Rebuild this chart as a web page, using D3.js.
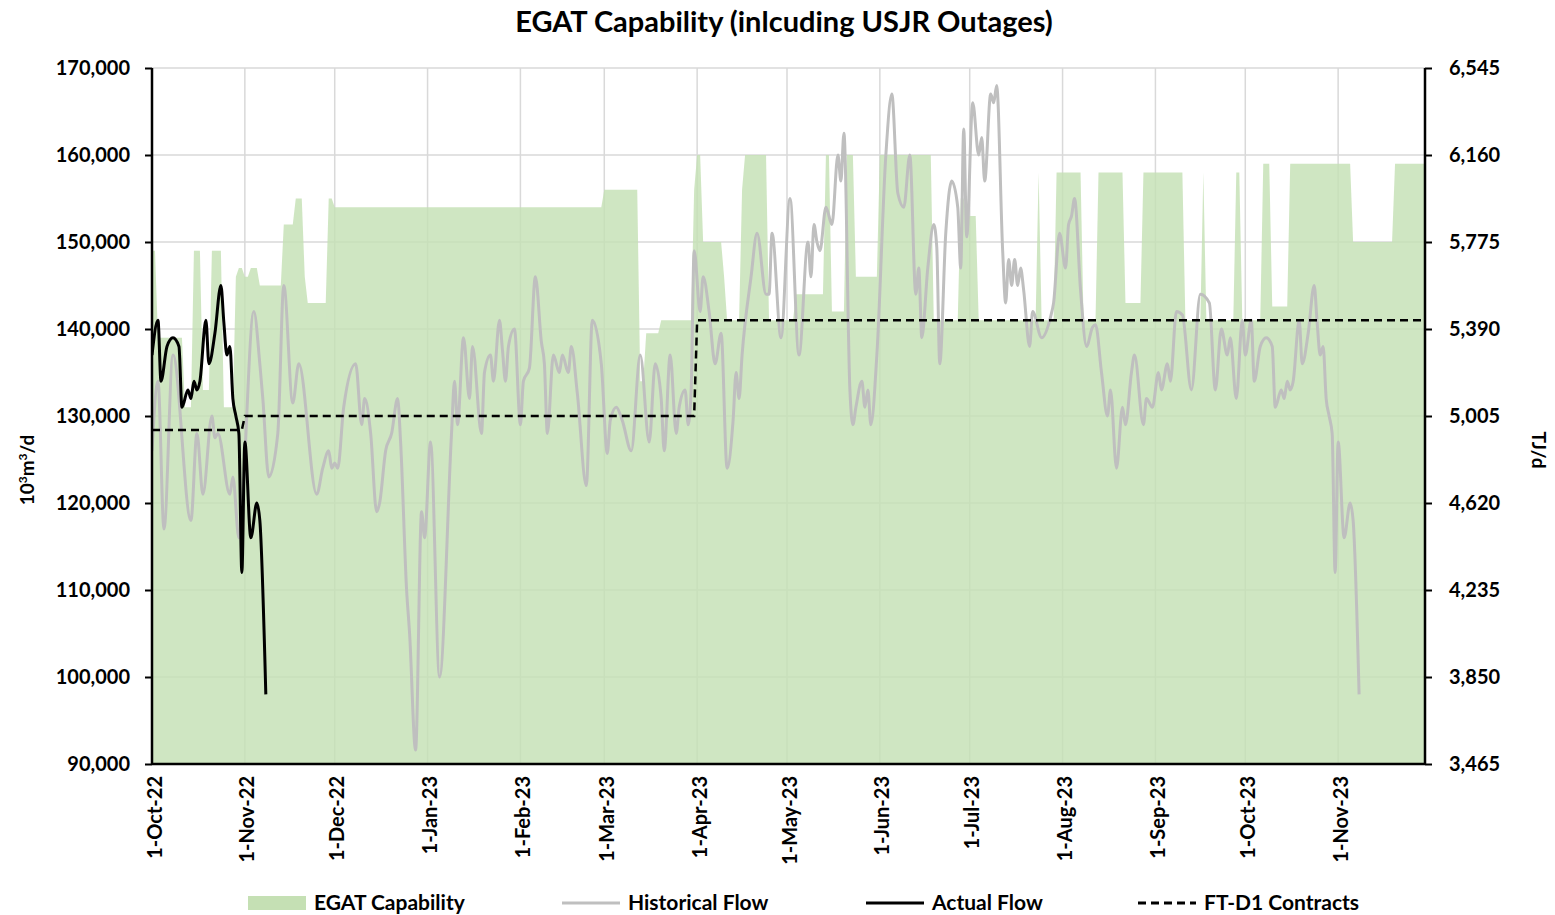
<!DOCTYPE html>
<html>
<head>
<meta charset="utf-8">
<script src="https://cdn.jsdelivr.net/npm/d3@7"></script>
<style>
  body { margin: 0; background: #fff; }
  svg text { font-family: Lato, "Open Sans", sans-serif; font-weight: 700; fill: #000; }
</style>
</head>
<body>
<svg id="chart" width="1555" height="915"></svg>
<script>
// EGAT capability chart

// --- data -------------------------------------------------------------
// all x values are days since 1-Oct-22, flows are in thousands of 10^3m3/d
const monthLabels = ['1-Oct-22', '1-Nov-22', '1-Dec-22', '1-Jan-23', '1-Feb-23', '1-Mar-23', '1-Apr-23',
    '1-May-23', '1-Jun-23', '1-Jul-23', '1-Aug-23', '1-Sep-23', '1-Oct-23', '1-Nov-23'];
const leftTicks = [90000, 100000, 110000, 120000, 130000, 140000, 150000, 160000, 170000];
const rightTicks = [3465, 3850, 4235, 4620, 5005, 5390, 5775, 6160, 6545];

// EGAT capability (step changes)
const capDays = [0, 1, 2, 10, 11, 13, 14, 16, 17, 19, 20, 23, 24, 27, 28, 29, 30, 31, 32, 33, 35, 36, 43, 44, 47, 48,
    50, 51, 52, 58, 59, 60, 61, 150, 151, 162, 163, 164, 165, 169, 170, 180, 181, 182, 183, 184, 190, 191, 192, 196,
    197, 198, 205, 206, 214, 215, 224, 225, 226, 227, 231, 232, 234, 235, 242, 243, 260, 261, 269, 270, 271, 272, 275,
    276, 295, 296, 297, 301, 302, 310, 311, 315, 316, 324, 325, 330, 331, 344, 345, 350, 351, 352, 361, 362, 363, 364,
    370, 371, 373, 374, 379, 380, 400, 401, 414, 415, 425];
const capValues = [149, 149, 139, 139, 131, 131, 149, 149, 133, 133, 149, 149, 131, 131, 146, 147, 147, 146, 146, 147, 147, 145, 145, 152, 152, 155,
    155, 146, 143, 143, 155, 155, 154, 154, 156, 156, 134, 134, 139.5, 139.5, 141, 141, 156, 160, 160, 150, 150, 146, 141, 141,
    156, 160, 160, 141, 141, 144, 144, 160, 160, 142, 142, 160, 160, 146, 146, 160, 160, 141, 141, 155, 155, 153, 153,
    141, 141, 158, 141, 141, 158, 158, 141, 141, 158, 158, 143, 143, 158, 158, 141, 141, 158, 141, 141, 158, 158, 141,
    141, 159, 159, 142.6, 142.6, 159, 159, 150, 150, 159, 159];

// Historical flow (turning points)
const histDays = [0, 2, 4, 7, 13, 15, 17, 20, 21, 22, 26, 27, 29, 34, 36, 37, 39, 42, 44, 47, 49, 55, 57, 59, 60, 61, 62,
    64, 68, 70, 71, 73, 75, 76, 78, 80, 82, 83, 85, 86, 88, 90, 91, 93, 96, 100, 101, 102, 104, 106, 107, 110, 111, 113,
    114, 116, 117, 118, 119, 121, 123, 124, 126, 128, 130, 131, 132, 134, 136, 137, 139, 140, 142, 145, 147, 150, 152,
    153, 155, 157, 160, 163, 166, 168, 170, 171, 173, 175, 176, 178, 179, 180, 181, 183, 184, 186, 188, 190, 192, 194,
    195, 196, 197, 200, 202, 205, 206, 207, 210, 213, 216, 219, 220, 221, 222, 223, 225, 227, 229, 230, 231, 233, 234,
    235, 237, 238, 239, 240, 242, 245, 247, 249, 251, 253, 255, 256, 257, 259, 261, 262, 263, 265, 267, 269, 270, 271,
    272, 274, 276, 277, 278, 280, 281, 282, 284, 285, 286, 287, 288, 289, 290, 291, 293, 294, 297, 300, 301, 303, 305,
    306, 307, 308, 310, 312, 314, 315, 317, 319, 320, 322, 324, 325, 327, 328, 331, 332, 334, 336, 337, 339, 340, 342,
    344, 347, 350, 353, 355, 357, 359, 360, 362, 364,
    365, 367, 368, 370, 372, 374, 375, 377, 378, 379, 380, 381, 383, 384, 386, 388, 389, 390, 391, 392, 393, 394, 395,
    396, 398, 400, 401, 403];
const histValues = [126, 134, 117, 137, 118, 128, 121, 130, 127.5, 128, 121, 123, 116, 142, 136, 132, 123, 128, 145, 131.5, 136, 121, 124, 126, 124, 124.6, 124,
    131, 136, 129, 132, 128, 119, 120, 126, 128, 132, 127, 110, 105, 91.6, 119, 116, 127, 100, 128, 134, 129, 139, 132, 138, 128, 135, 137,
    134, 141, 137.6, 134, 138, 140, 129, 134, 135.5, 146, 138.5, 136, 128, 137, 135, 137, 135, 138, 132.6, 122, 141, 136, 125.7,
    129.5, 131, 129.5, 126, 137, 127, 136, 132, 126, 137, 128, 131, 133, 129, 133, 149, 142, 146, 142, 136, 139.5, 124, 129.5,
    135, 132, 137, 146, 151, 144, 144, 151, 139, 155, 137, 150, 146, 152, 150, 149, 154, 152, 160, 157, 162.5, 133, 129,
    131, 134, 131, 133, 129, 137, 160, 167, 155.6, 154, 160, 144, 147, 139, 147, 152, 149.4, 136, 151, 157, 154, 147, 163,
    150.6, 166, 160, 162, 157, 167, 166, 168, 149, 143, 148, 145, 148, 145, 147, 144.5, 138, 142, 139, 141.4, 143, 151, 147,
    152, 153, 155, 144.5, 138, 140.2, 140.5, 135, 130, 133, 124, 131, 129, 135, 137, 129, 132, 131, 135, 133, 136, 134, 142,
    141.6, 133, 144, 143, 133, 140, 137, 139, 132, 141,
    137, 141, 134, 138, 139, 138, 131, 133, 132, 134, 133, 134, 141, 136, 139.5, 145, 140.7, 137, 138, 132, 130, 128, 112,
    127, 116, 120, 118, 98];

// Actual flow (Oct-Nov 2023 flows laid over the 2022 dates)
const actualDays = [0, 2, 3, 5, 7, 9, 10, 12, 13, 14, 15, 16, 18, 19, 21, 23, 24, 25, 26, 27, 28, 29, 30,
    31, 33, 35, 36, 38];
const actualValues = [137, 141, 134, 138, 139, 138, 131, 133, 132, 134, 133, 134, 141, 136, 139.5, 145, 140.7, 137, 138, 132, 130, 128, 112,
    127, 116, 120, 118, 98];

// FT-D1 contracts
const contractDays = [0, 30, 31, 181, 182, 425];
const contractValues = [128.4, 128.4, 130, 130, 141, 141];

const legendLabels = ['EGAT Capability', 'Historical Flow', 'Actual Flow', 'FT-D1 Contracts'];

// --- setup -------------------------------------------------------------
const start = new Date(Date.UTC(2022, 9, 1));
const toDate = d => d3.utcDay.offset(start, d);
const toPoints = (days, vals) => days.map((d, i) => ({ date: toDate(d), value: vals[i] * 1000 }));

const plot = { left: 152, right: 1425, top: 68, bottom: 764 };
const svg = d3.select('#chart');

const x = d3.scaleUtc().domain([toDate(0), toDate(425)]).range([plot.left, plot.right]);
const y = d3.scaleLinear().domain([90000, 170000]).range([plot.bottom, plot.top]);
const yRight = d3.scaleLinear().domain([3465, 6545]).range([plot.bottom, plot.top]);
const monthTicks = monthLabels.map((l, i) => d3.utcMonth.offset(start, i));

// Title
svg.append('text')
    .attr('x', 784).attr('y', 32)
    .attr('text-anchor', 'middle')
    .style('font-size', '29px')
    .text('EGAT Capability (inlcuding USJR Outages)');

// Gridlines
const grid = svg.append('g');
grid.selectAll('line.h')
    .data(leftTicks.slice(1))
    .join('line')
    .attr('x1', plot.left).attr('x2', plot.right)
    .attr('y1', d => y(d)).attr('y2', d => y(d))
    .attr('stroke', '#d9d9d9').attr('stroke-width', 1.5);
grid.selectAll('line.v')
    .data(monthTicks.slice(1))
    .join('line')
    .attr('x1', d => x(d)).attr('x2', d => x(d))
    .attr('y1', plot.top).attr('y2', plot.bottom)
    .attr('stroke', '#d9d9d9').attr('stroke-width', 1.5);

svg.append('clipPath').attr('id', 'clip')
    .append('rect')
    .attr('x', plot.left).attr('y', plot.top)
    .attr('width', plot.right - plot.left).attr('height', plot.bottom - plot.top);

const marks = svg.append('g').attr('clip-path', 'url(#clip)');

// Capability area
const area = d3.area()
    .x(d => x(d.date))
    .y0(y(90000))
    .y1(d => y(d.value));

marks.append('path')
    .datum(toPoints(capDays, capValues))
    .attr('d', area)
    .attr('fill', '#c5e0b4')
    .attr('fill-opacity', 0.82);

const line = d3.line()
    .x(d => x(d.date))
    .y(d => y(d.value))
    .curve(d3.curveMonotoneX);

// Historical flow
marks.append('path')
    .datum(toPoints(histDays, histValues))
    .attr('d', line)
    .attr('fill', 'none')
    .attr('stroke', '#bfbfbf')
    .attr('stroke-width', 3);

// Actual flow
marks.append('path')
    .datum(toPoints(actualDays, actualValues))
    .attr('d', line)
    .attr('fill', 'none')
    .attr('stroke', '#000')
    .attr('stroke-width', 3);

// FT-D1 contracts
marks.append('path')
    .datum(toPoints(contractDays, contractValues))
    .attr('d', d3.line().x(d => x(d.date)).y(d => y(d.value)))
    .attr('fill', 'none')
    .attr('stroke', '#000')
    .attr('stroke-width', 2.5)
    .attr('stroke-dasharray', '8,5');

// Axes
const leftAxis = svg.append('g')
    .attr('transform', `translate(${plot.left},0)`)
    .call(d3.axisLeft(y).tickValues(leftTicks).tickFormat(d3.format(',')).tickSize(7).tickPadding(15));
const rightAxis = svg.append('g')
    .attr('transform', `translate(${plot.right},0)`)
    .call(d3.axisRight(yRight).tickValues(rightTicks).tickFormat(d3.format(',')).tickSize(7).tickPadding(17));
const bottomAxis = svg.append('g')
    .attr('transform', `translate(0,${plot.bottom})`)
    .call(d3.axisBottom(x).tickValues(monthTicks).tickFormat((d, i) => monthLabels[i]).tickSize(0));

[leftAxis, rightAxis, bottomAxis].forEach(a => {
    a.selectAll('path').attr('stroke', '#000').attr('stroke-width', 2.5);
    a.selectAll('line').attr('stroke', '#000').attr('stroke-width', 2);
    a.selectAll('text').style('font-size', '20px').attr('font-family', null);
});
leftAxis.select('path').attr('d', `M0,${plot.top}V${plot.bottom}`);
rightAxis.select('path').attr('d', `M0,${plot.top}V${plot.bottom}`);
bottomAxis.select('path').attr('d', `M${plot.left},0H${plot.right}`);

bottomAxis.selectAll('text')
    .attr('text-anchor', 'end')
    .attr('transform', 'rotate(-90)')
    .attr('x', -12).attr('y', 2).attr('dy', '0.35em');

// Axis titles
const leftTitle = svg.append('text')
    .attr('transform', 'translate(34,470) rotate(-90)')
    .attr('text-anchor', 'middle')
    .style('font-size', '19px');
leftTitle.append('tspan').text('10');
leftTitle.append('tspan').attr('dy', -7).style('font-size', '12px').text('3');
leftTitle.append('tspan').attr('dy', 7).text('m');
leftTitle.append('tspan').attr('dy', -7).style('font-size', '12px').text('3');
leftTitle.append('tspan').attr('dy', 7).text('/d');

svg.append('text')
    .attr('transform', 'translate(1532,450) rotate(90)')
    .attr('text-anchor', 'middle')
    .style('font-size', '19px')
    .text('TJ/d');

// Legend
const legendX = [248, 562, 866, 1138];
const legend = svg.append('g').selectAll('g')
    .data(legendLabels)
    .join('g')
    .attr('transform', (d, i) => `translate(${legendX[i]},903)`);

legend.filter((d, i) => i === 0).append('rect')
    .attr('x', 0).attr('y', -7).attr('width', 58).attr('height', 14)
    .attr('fill', '#c5e0b4');
legend.filter((d, i) => i > 0).append('line')
    .attr('x1', 0).attr('x2', 58).attr('y1', 0).attr('y2', 0)
    .attr('stroke', (d, i) => i === 0 ? '#bfbfbf' : '#000')
    .attr('stroke-width', 3)
    .attr('stroke-dasharray', (d, i) => i === 2 ? '8,5' : null);
legend.append('text')
    .attr('x', 66).attr('y', 0).attr('dy', '0.35em')
    .style('font-size', '21px')
    .text(d => d);
</script>
</body>
</html>
